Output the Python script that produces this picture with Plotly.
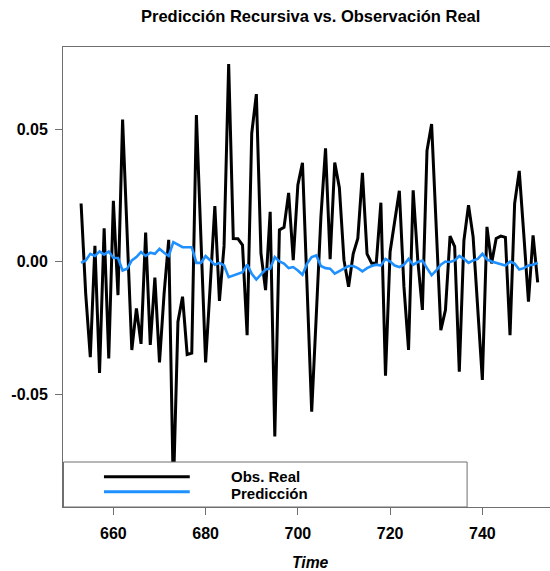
import plotly.graph_objects as go

time_start = 653
obs_real = [
    0.022, -0.012, -0.036, 0.006, -0.042, 0.0126, -0.0365, 0.023, -0.0126, 0.0537,
    0.010, -0.0333, -0.0176, -0.031, 0.011, -0.0314, -0.006, -0.038, -0.012, 0.0083,
    -0.087, -0.0226, -0.0132, -0.035, -0.0345, 0.0554, 0.008, -0.038, -0.009, 0.021,
    -0.0148, 0.006, 0.0747, 0.0088, 0.0087, 0.0063, -0.0277, 0.0485, 0.0633, 0.0032,
    -0.0107, 0.0189, -0.066, 0.012, 0.013, 0.026, 0.0006, 0.029, 0.0374, -0.01,
    -0.0566, -0.02, 0.017, 0.0428, 0.001, 0.0375, 0.028, 0.0006, -0.0094, 0.003,
    0.0088, 0.0336, 0.003, -0.0006, -0.0006, 0.0223, -0.043, 0.0038, 0.0151, 0.0268,
    -0.0094, -0.0333, 0.027, 0.0006, -0.0182, 0.042, 0.052, 0.013, -0.0258, -0.0182,
    0.0097, 0.0057, -0.0415, 0.008, 0.0214, 0.0094, -0.018, -0.0446, 0.0132, -0.0006,
    0.0088, 0.0097, 0.0092, -0.0277, 0.022, 0.0343, 0.01, -0.0151, 0.010, -0.0078,
]
prediccion = [
    -0.0004, 0.0005, 0.003, 0.0022, 0.0039, 0.0027, 0.0039, 0.0015, 0.0014, -0.0033,
    -0.0026, 0.0005, 0.0018, 0.0037, 0.0022, 0.0034, 0.003, 0.0049, 0.0034, 0.0022,
    0.0074, 0.0064, 0.0055, 0.0055, 0.0055, -0.0004, -0.0004, 0.0022, 0.0005, -0.0011,
    -0.0004, -0.0014, -0.0058, -0.0051, -0.0045, -0.0039, -0.0011, -0.0045, -0.0067, -0.0049,
    -0.0029, -0.0026, 0.0018, 0.0001, -0.0007, -0.0024, -0.002, -0.0033, -0.0049, -0.0007,
    0.0018, 0.0024, -0.0016, -0.0024, -0.0026, -0.0045, -0.0036, -0.0024, -0.0016, -0.0016,
    -0.0024, -0.0036, -0.0024, -0.0016, -0.0011, -0.0014, 0.0011, 0.0001, -0.0014, -0.002,
    -0.0011, 0.0011, -0.0011, -0.0001, 0.0005, -0.0024, -0.0051, -0.0033, -0.0011, 0.0001,
    -0.0001, 0.0005, 0.0022, 0.0011, -0.0004, 0.0005, 0.0011, 0.003, 0.0009, 0.0001,
    -0.0004, -0.0007, -0.0014, 0.0001, -0.0007, -0.0029, -0.0024, -0.0014, -0.0011, -0.0004,
]
time = list(range(time_start, time_start + len(obs_real)))

x_ticks = [660, 680, 700, 720, 740]
y_ticks = [-0.05, 0.0, 0.05]
y_ticktext = ["-0.05", "0.00", "0.05"]
legend_labels = ["Obs. Real", "Predicción"]
title_text = "Predicción Recursiva vs. Observación Real"
xlabel_text = "Time"

FONT = "Liberation Sans, Arial, Helvetica, sans-serif"
BLACK = "#000000"
BLUE = "#1E90FF"
BOX = "#6f6f6f"

W, H = 550, 571
L, R, T, B = 62.5, 0, 47, 64
plot_w = W - L - R
plot_h = H - T - B


def px_x(p):
    return (p - L) / plot_w


def px_y(p):
    return (H - B - p) / plot_h


fig = go.Figure()
fig.add_trace(go.Scatter(x=time, y=obs_real, mode="lines",
                         line=dict(color=BLACK, width=3), name=legend_labels[0],
                         showlegend=False))
fig.add_trace(go.Scatter(x=time, y=prediccion, mode="lines",
                         line=dict(color=BLUE, width=2.6), name=legend_labels[1],
                         showlegend=False))

tickfont = dict(family=FONT, size=16, color="#000000", weight="bold")

fig.update_xaxes(range=[649.08, 649.08 + plot_w / 4.617], tickvals=x_ticks,
                 ticks="outside", ticklen=7, tickwidth=1, tickcolor=BOX,
                 showline=True, linecolor=BOX, linewidth=1, mirror=True,
                 showgrid=False, zeroline=False, tickfont=tickfont,
                 ticklabelstandoff=5)
fig.update_yaxes(range=[-0.0926, 0.0811], tickvals=y_ticks, ticktext=y_ticktext,
                 ticks="outside", ticklen=7, tickwidth=1, tickcolor=BOX,
                 showline=True, linecolor=BOX, linewidth=1, mirror=False,
                 showgrid=False, zeroline=False, tickfont=tickfont,
                 ticklabelstandoff=4)

shapes = [
    dict(type="rect", xref="paper", yref="paper", x0=px_x(63), x1=px_x(467),
         y0=0, y1=px_y(462), fillcolor="white", line=dict(color=BOX, width=1),
         layer="above"),
    dict(type="line", xref="paper", yref="paper", x0=px_x(103.5), x1=px_x(189.4),
         y0=px_y(476.7), y1=px_y(476.7), line=dict(color=BLACK, width=3), layer="above"),
    dict(type="line", xref="paper", yref="paper", x0=px_x(103.5), x1=px_x(189.4),
         y0=px_y(491.7), y1=px_y(491.7), line=dict(color=BLUE, width=3), layer="above"),
]

legend_font = dict(family=FONT, size=15, color="#000", weight="bold")
annotations = [
    dict(text=legend_labels[0], xref="paper", yref="paper", x=px_x(229), y=px_y(476),
         xanchor="left", yanchor="middle", showarrow=False, font=legend_font),
    dict(text=legend_labels[1], xref="paper", yref="paper", x=px_x(229), y=px_y(493.5),
         xanchor="left", yanchor="middle", showarrow=False, font=legend_font),
    dict(text=title_text, xref="paper", yref="paper", x=px_x(310), y=px_y(16),
         xanchor="center", yanchor="middle", showarrow=False,
         font=dict(family=FONT, size=16.5, color="#000", weight="bold")),
    dict(text=xlabel_text, xref="paper", yref="paper", x=px_x(310), y=px_y(562),
         xanchor="center", yanchor="middle", showarrow=False,
         font=dict(family=FONT, size=15.7, color="#000", weight="bold", style="italic")),
]

fig.update_layout(width=W, height=H, margin=dict(l=L, r=R, t=T, b=B, pad=0),
                  paper_bgcolor="white", plot_bgcolor="white",
                  shapes=shapes, annotations=annotations, showlegend=False)

fig.write_html("out.html")
